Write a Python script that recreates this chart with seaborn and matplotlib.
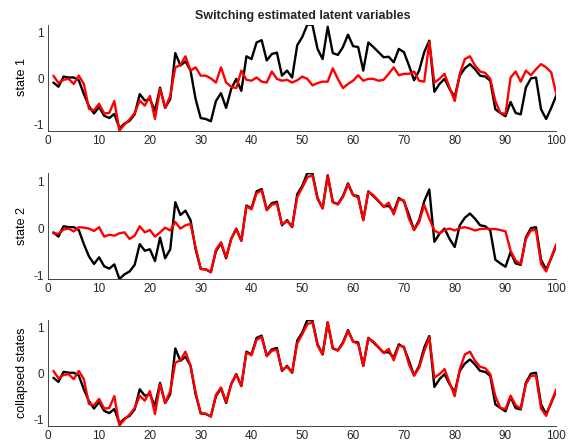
import numpy as np
import pandas as pd
import matplotlib
matplotlib.use("Agg")
import matplotlib.pyplot as plt
import seaborn as sns

# time index
t = list(range(1, 101))

# true latent trajectory
latent = [-0.09, -0.18, 0.04, 0.02, 0.02, -0.04, -0.34, -0.60, -0.76, -0.62,
          -0.81, -0.86, -0.77, -1.08, -0.98, -0.92, -0.78, -0.34, -0.48, -0.45,
          -0.70, -0.20, -0.64, -0.45, 0.55, 0.28, 0.37, 0.17, -0.45, -0.86,
          -0.88, -0.93, -0.49, -0.32, -0.64, -0.23, -0.01, -0.27, 0.48, 0.42,
          0.78, 0.83, 0.39, 0.53, 0.56, 0.06, 0.17, 0.02, 0.72, 0.90,
          1.17, 1.16, 0.64, 0.42, 1.12, 0.55, 0.51, 0.68, 0.95, 0.70,
          0.68, 0.17, 0.78, 0.68, 0.57, 0.46, 0.47, 0.35, 0.64, 0.57,
          0.28, -0.04, 0.17, 0.57, 0.82, -0.29, -0.12, -0.01, -0.23, -0.40,
          0.06, 0.22, 0.31, 0.20, 0.06, 0.04, -0.05, -0.67, -0.75, -0.82,
          -0.51, -0.75, -0.78, -0.20, 0.00, 0.02, -0.67, -0.88, -0.64, -0.37]

# estimate under state 1
est_state1 = [0.06, -0.10, -0.03, -0.01, -0.12, 0.06, -0.12, -0.66, -0.69, -0.55,
              -0.76, -0.75, -0.49, -1.13, -1.00, -0.89, -0.75, -0.48, -0.59, -0.38,
              -0.88, -0.23, -0.64, -0.38, 0.24, 0.29, 0.48, 0.17, 0.24, 0.06,
              0.06, 0.00, -0.09, 0.24, -0.09, -0.18, -0.21, 0.17, -0.03, -0.05,
              0.02, -0.07, -0.09, 0.15, -0.01, -0.05, -0.03, -0.09, -0.04, 0.04,
              -0.01, -0.15, -0.10, -0.07, -0.07, 0.22, -0.01, -0.21, -0.12, -0.05,
              0.07, -0.05, -0.01, -0.01, -0.05, -0.03, 0.10, 0.24, 0.07, 0.10,
              0.10, 0.15, -0.05, -0.07, 0.79, -0.09, -0.01, 0.10, -0.20, -0.49,
              0.10, 0.42, 0.48, 0.28, 0.15, 0.12, -0.01, -0.49, -0.75, -0.77,
              0.02, 0.15, -0.07, 0.17, 0.07, 0.20, 0.31, 0.24, 0.13, -0.34]

# estimate under state 2
est_state2 = [-0.11, -0.12, -0.03, -0.01, -0.07, 0.02, 0.01, -0.01, -0.06, 0.02,
              -0.18, -0.14, -0.16, -0.11, -0.09, -0.23, -0.16, 0.04, -0.09, -0.04,
              -0.18, -0.09, 0.01, -0.05, 0.13, -0.01, 0.06, 0.09, -0.41, -0.87,
              -0.87, -0.94, -0.46, -0.30, -0.62, -0.23, -0.02, -0.27, 0.46, 0.40,
              0.74, 0.80, 0.38, 0.50, 0.52, 0.08, 0.15, 0.03, 0.66, 0.86,
              1.08, 1.12, 0.62, 0.42, 1.12, 0.56, 0.50, 0.66, 0.93, 0.70,
              0.65, 0.17, 0.77, 0.70, 0.58, 0.45, 0.54, 0.29, 0.61, 0.59,
              0.20, -0.04, 0.13, 0.49, 0.20, -0.05, -0.11, -0.04, -0.01, -0.05,
              0.00, 0.02, -0.01, -0.05, -0.02, -0.01, -0.02, -0.02, -0.04, -0.07,
              -0.48, -0.69, -0.76, -0.23, -0.05, -0.04, -0.76, -0.92, -0.62, -0.34]

# estimate with the states collapsed
est_collapsed = [0.06, -0.10, -0.03, -0.01, -0.12, 0.06, -0.12, -0.66, -0.69, -0.55,
                 -0.76, -0.75, -0.49, -1.13, -1.00, -0.89, -0.75, -0.48, -0.59, -0.38,
                 -0.88, -0.23, -0.64, -0.38, 0.24, 0.29, 0.48, 0.17, -0.41, -0.87,
                 -0.87, -0.94, -0.46, -0.30, -0.62, -0.23, -0.02, -0.27, 0.46, 0.40,
                 0.74, 0.80, 0.38, 0.50, 0.52, 0.08, 0.15, 0.03, 0.66, 0.86,
                 1.08, 1.12, 0.62, 0.42, 1.12, 0.56, 0.50, 0.66, 0.93, 0.70,
                 0.65, 0.17, 0.77, 0.70, 0.58, 0.45, 0.54, 0.29, 0.61, 0.59,
                 0.20, -0.04, 0.13, 0.49, 0.79, -0.09, -0.01, 0.10, -0.20, -0.49,
                 0.10, 0.42, 0.48, 0.28, 0.15, 0.12, -0.01, -0.49, -0.75, -0.77,
                 -0.48, -0.69, -0.76, -0.23, -0.05, -0.04, -0.76, -0.92, -0.62, -0.34]

panel_labels = ["state 1", "state 2", "collapsed states"]
estimates = [est_state1, est_state2, est_collapsed]
x_ticks = [0, 10, 20, 30, 40, 50, 60, 70, 80, 90, 100]
y_ticks = [-1, 0, 1]

sns.set_style("white")
plt.rcParams["font.family"] = ["Liberation Sans", "DejaVu Sans"]
plt.rcParams["axes.unicode_minus"] = False

fig = plt.figure(figsize=(5.73, 4.46), dpi=100)
W, H = 573.0, 446.0
# (top, bottom) of each panel in pixels
rows = [(24.5, 130.5), (173.0, 279.0), (320.0, 425.5)]
left_px, right_px = 48.3, 556.3
ink = "#262626"

for i, ((top, bot), est, lab) in enumerate(zip(rows, estimates, panel_labels)):
    ax = fig.add_axes([left_px / W, 1 - bot / H, (right_px - left_px) / W, (bot - top) / H])
    df = pd.DataFrame({"t": t, "latent": latent, "estimate": est})
    sns.lineplot(data=df, x="t", y="latent", color="black", linewidth=1.7, ax=ax)
    sns.lineplot(data=df, x="t", y="estimate", color="#ff0000", linewidth=1.7, ax=ax)
    lo = min(min(latent), min(est))
    hi = max(max(latent), max(est))
    ax.set_xlim(0, 100)
    ax.set_ylim(lo, hi)
    ax.set_xticks(x_ticks)
    ax.set_yticks(y_ticks)
    ax.set_xlabel("")
    ax.set_ylabel(lab, fontsize=9, color="black", labelpad=4)
    for s in ["top", "right"]:
        ax.spines[s].set_visible(False)
    for s in ["left", "bottom"]:
        ax.spines[s].set_color(ink)
        ax.spines[s].set_linewidth(0.6)
    ax.tick_params(direction="in", length=3, width=0.6, colors=ink, labelsize=8.5, pad=3)
    if i == 0:
        ax.set_title("Switching estimated latent variables", fontsize=9, fontweight="bold", pad=4)

fig.savefig("out.png", dpi=100)
